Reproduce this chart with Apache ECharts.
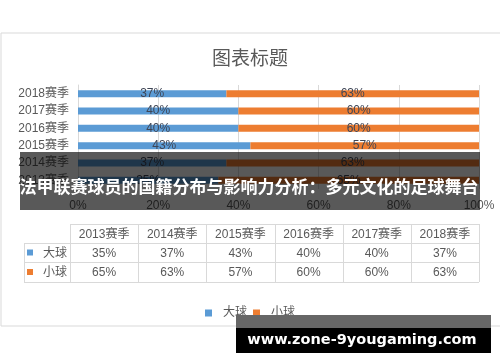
<!DOCTYPE html>
<html><head><meta charset="utf-8">
<script src="https://cdn.jsdelivr.net/npm/echarts@6/dist/echarts.min.js"></script>
<style>html,body{margin:0;padding:0;background:#fff}#c{width:500px;height:362px}</style>
</head><body><div id="c"></div>
<script>
const seasons = ['2013赛季','2014赛季','2015赛季','2016赛季','2017赛季','2018赛季'];
const bigBall = [35, 37, 43, 40, 40, 37];
const smallBall = [65, 63, 57, 60, 60, 63];
const seriesNames = ['大球', '小球'];
const xTickMax = 100, xTickStep = 20;
const titleText = '图表标题';
const bannerText = '法甲联赛球员的国籍分布与影响力分析：多元文化的足球舞台';
const watermarkText = 'www.zone-9yougaming.com';

const BLUE = '#5b9bd5', ORANGE = '#ed7d31', GRAY = '#595959', LINE = '#d9d9d9';
const FONT = '"Liberation Sans","Noto Sans CJK SC",sans-serif';

const chart = echarts.init(document.getElementById('c'), null, {renderer: 'canvas'});

const g = [];
g.push({type: 'rect', shape: {x: 1, y: 33, width: 540, height: 293}, style: {fill: 'none', stroke: LINE, lineWidth: 1}, z: 1, silent: true});
const tx0 = 70, tx1 = 479, tLeft = 24, colW = (tx1 - tx0) / seasons.length;
const rowY = [224, 243, 262, 282];
const hl = (x1, y, x2) => g.push({type: 'line', shape: {x1, y1: y + 0.5, x2, y2: y + 0.5}, style: {stroke: LINE, lineWidth: 1}, silent: true});
const vl = (x, y1, y2) => g.push({type: 'line', shape: {x1: x + 0.5, y1, x2: x + 0.5, y2}, style: {stroke: LINE, lineWidth: 1}, silent: true});
hl(tx0, rowY[0], tx1); hl(tLeft, rowY[1], tx1); hl(tLeft, rowY[2], tx1); hl(tLeft, rowY[3], tx1);
vl(tLeft, rowY[1], rowY[3]);
for (let i = 0; i <= seasons.length; i++) vl(Math.round(tx0 + i * colW), rowY[0], rowY[3]);
const rowsData = [bigBall, smallBall];
const colors = [BLUE, ORANGE];
seasons.forEach((s, i) => {
  const cx = tx0 + (i + 0.5) * colW;
  g.push({type: 'text', style: {text: s, x: cx, y: (rowY[0] + rowY[1]) / 2 + 1, align: 'center', verticalAlign: 'middle', fill: GRAY, font: '12px ' + FONT}, silent: true});
  rowsData.forEach((arr, r) => {
    g.push({type: 'text', style: {text: arr[i] + '%', x: cx, y: (rowY[r + 1] + rowY[r + 2]) / 2 + 1, align: 'center', verticalAlign: 'middle', fill: GRAY, font: '12px ' + FONT}, silent: true});
  });
});
seriesNames.forEach((n, r) => {
  const cy = (rowY[r + 1] + rowY[r + 2]) / 2;
  g.push({type: 'rect', shape: {x: 27, y: cy - 3, width: 6, height: 6}, style: {fill: colors[r]}, silent: true});
  g.push({type: 'text', style: {text: n, x: 43, y: cy + 1, align: 'left', verticalAlign: 'middle', fill: GRAY, font: '12px ' + FONT}, silent: true});
});
g.push({type: 'rect', shape: {x: 20, y: 152, width: 460, height: 58}, style: {fill: 'rgba(0,0,0,0.65)'}, z: 100, silent: true});
g.push({type: 'text', style: {text: bannerText, x: 249, y: 187, align: 'center', verticalAlign: 'middle', fill: '#fff', font: 'bold 17px "Noto Sans CJK SC",sans-serif'}, z: 101, silent: true});
g.push({type: 'rect', shape: {x: 236, y: 315, width: 255, height: 13}, style: {fill: '#666'}, z: 100, silent: true});
g.push({type: 'rect', shape: {x: 236, y: 328, width: 255, height: 25}, style: {fill: '#000'}, z: 100, silent: true});
g.push({type: 'text', style: {text: watermarkText, x: 362, y: 340, align: 'center', verticalAlign: 'middle', fill: '#fff', font: 'bold 14.5px "DejaVu Sans",sans-serif'}, z: 101, silent: true});

chart.setOption({
  animation: false,
  backgroundColor: '#fff',
  title: {text: titleText, left: 'center', top: 43, textStyle: {color: GRAY, fontSize: 19, fontWeight: 'normal', fontFamily: '"Noto Sans CJK SC",sans-serif'}},
  legend: {data: seriesNames, left: 200, top: 302, icon: 'rect', itemWidth: 7, itemHeight: 7, itemGap: 6,
    textStyle: {color: GRAY, fontSize: 12, fontFamily: FONT, padding: [0, 0, 0, 6]}},
  grid: {left: 78, right: 21, top: 85, height: 104, containLabel: false},
  xAxis: {type: 'value', min: 0, max: xTickMax, interval: xTickStep,
    axisLine: {show: false}, axisTick: {show: false},
    axisLabel: {formatter: v => v + '%', color: GRAY, fontSize: 12, margin: 11, fontFamily: FONT},
    splitLine: {lineStyle: {color: LINE}}},
  yAxis: {type: 'category', data: seasons,
    axisLine: {show: true, lineStyle: {color: LINE}}, axisTick: {show: false},
    axisLabel: {color: GRAY, fontSize: 12, margin: 9, fontFamily: FONT}},
  series: [
    {name: seriesNames[0], type: 'bar', stack: 'a', data: bigBall, barWidth: 7, itemStyle: {color: BLUE},
      label: {show: true, position: 'inside', formatter: p => p.value + '%', color: '#3f4656', fontSize: 12, fontFamily: FONT}},
    {name: seriesNames[1], type: 'bar', stack: 'a', data: smallBall, barWidth: 7, itemStyle: {color: ORANGE},
      label: {show: true, position: 'inside', formatter: p => p.value + '%', color: '#3f4656', fontSize: 12, fontFamily: FONT}}
  ],
  graphic: {elements: g}
});
</script></body></html>
